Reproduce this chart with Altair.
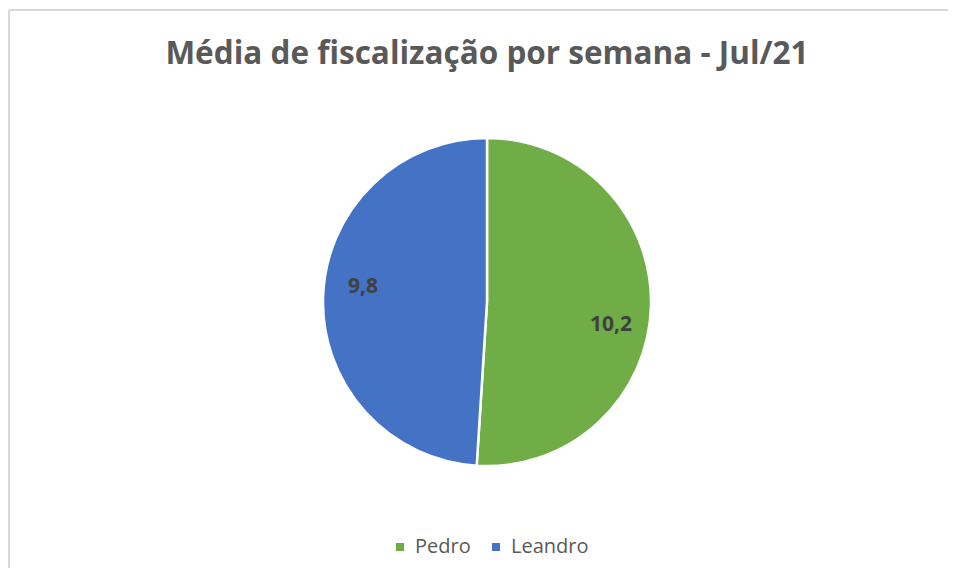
import altair as alt
import pandas as pd

names = ["Pedro", "Leandro"]
values = [10.2, 9.8]
labels = ["10,2", "9,8"]
order = [0, 1]
colors = ["#70AD47", "#4472C4"]
title_text = "Média de fiscalização por semana - Jul/21"

df = pd.DataFrame({"name": names, "value": values, "label": labels, "order": order})

FONT = "Open Sans"
TXT = "#595959"

base = alt.Chart(df)

arcs = base.mark_arc(outerRadius=164, stroke="white", strokeWidth=2.5).encode(
    theta=alt.Theta("value:Q", stack=True),
    order=alt.Order("order:Q"),
    color=alt.Color(
        "name:N",
        scale=alt.Scale(domain=names, range=colors),
        sort=names,
        legend=alt.Legend(
            title=None,
            orient="none",
            direction="horizontal",
            legendX=364,
            legendY=437,
            symbolType="square",
            symbolSize=64,
            symbolStrokeWidth=0,
            labelFont=FONT,
            labelFontSize=20,
            labelColor=TXT,
            labelOffset=5,
            columnPadding=15,
        ),
    ),
)


def label_layer(name, dy):
    return base.transform_window(
        cum="sum(value)", sort=[alt.SortField("order")]
    ).transform_calculate(
        mid="datum.cum - datum.value / 2"
    ).transform_filter(alt.datum.name == name).mark_text(
        radius=124, dy=dy, font=FONT, fontSize=21, fontWeight="bold", color="#404040"
    ).encode(
        theta=alt.Theta("mid:Q", scale=alt.Scale(domain=[0, 20], range=[0, 6.283185307])),
        text="label:N",
    )


lbl_p = label_layer("Pedro", 19)
lbl_l = label_layer("Leandro", -11)

border_left = base.mark_rule(color="#d9d9d9", strokeWidth=2).encode(
    x=alt.value(-17), y=alt.value(-90), y2=alt.value(600)
)
border_top = base.mark_rule(color="#d9d9d9", strokeWidth=2).encode(
    x=alt.value(-17), x2=alt.value(1000), y=alt.value(-90)
)

chart = alt.layer(border_left, border_top, arcs, lbl_p, lbl_l).resolve_scale(
    theta="independent"
).properties(
    width=922,
    height=404,
    padding={"left": 18, "top": 92, "right": 0, "bottom": 64},
    autosize=alt.AutoSizeParams(type="none"),
    background="white",
    title=alt.TitleParams(
        title_text,
        font=FONT,
        fontSize=31.5,
        fontWeight="bold",
        color=TXT,
        anchor="middle",
        frame="group",
        baseline="alphabetic",
        offset=32,
        dy=118,
    ),
).configure_view(stroke=None)

chart.save("out.html", embed_options={"renderer": "svg", "actions": False})
